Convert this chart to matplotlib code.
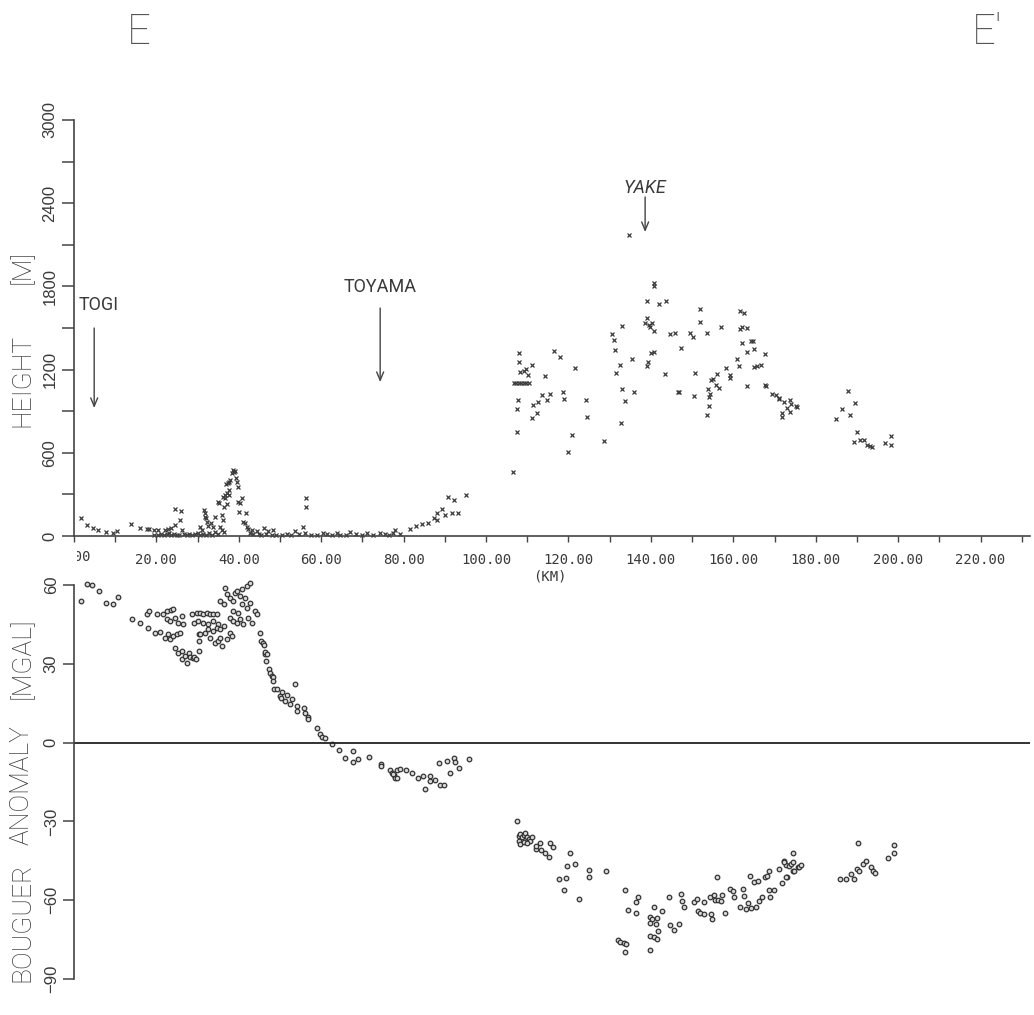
import numpy as np
import matplotlib
matplotlib.use("Agg")
import matplotlib.pyplot as plt
from matplotlib import font_manager
from matplotlib.ticker import MultipleLocator, FixedLocator, FixedFormatter
from matplotlib.transforms import Bbox, TransformedBbox

# ---- height profile [km, m] ----
height_west = [(1.7, 132), (3.2, 79), (4.7, 55), (5.9, 43), (7.8, 31), (9.4, 24), (10.5, 38),
               (13.8, 84), (15.9, 60), (17.6, 48), (18.3, 48), (19.4, 43), (20.5, 43), (22.1, 43),
               (22.9, 48), (23.5, 55), (24.5, 79), (24.5, 192), (26.0, 180), (25.7, 115), (26.2, 43),
               (19.5, 10), (20.5, 8), (21.0, 15), (21.8, 6), (22.5, 12), (23.0, 20), (23.6, 8),
               (24.2, 14), (25.0, 5), (25.6, 10), (26.8, 12), (27.5, 8), (28.0, 16), (28.6, 6), (29.3, 12)]
height_peak = [(30.6, 63), (31.0, 43), (31.6, 187), (31.8, 164), (32.1, 128), (32.2, 103), (32.4, 72),
               (33.2, 91), (33.8, 67), (34.2, 135), (35.0, 248), (35.5, 67), (35.9, 151), (36.1, 115),
               (36.3, 212), (36.7, 272), (37.1, 313), (37.3, 380), (37.5, 296), (37.9, 404), (38.3, 452),
               (38.7, 476), (38.9, 464), (39.3, 416), (39.5, 392), (39.8, 248), (39.9, 356), (40.3, 236),
               (40.7, 272), (40.1, 175), (41.8, 168), (41.1, 103), (41.5, 91), (41.9, 63), (42.3, 48),
               (43.1, 43), (44.4, 38), (46.0, 55), (47.2, 38), (48.4, 43), (31.8, 139), (36.1, 279),
               (36.7, 296), (37.1, 231), (36.9, 375), (37.5, 392), (39.1, 469), (35.1, 240), (37.5, 330),
               (30.0, 20), (30.5, 8), (31.3, 14), (32.0, 6), (32.8, 25), (33.5, 10), (34.3, 30),
               (35.0, 18), (35.8, 40), (36.4, 28), (42.8, 20), (43.5, 15), (44.8, 12), (45.5, 8),
               (46.6, 15), (48.0, 10), (49.0, 7)]
height_plain = [(50.5, 8), (51.8, 14), (52.6, 6), (53.7, 38), (54.5, 12), (55.5, 67), (56.3, 212),
                (56.3, 274), (56.0, 20), (57.5, 8), (59.0, 10), (60.5, 24), (61.5, 12), (62.5, 5),
                (63.8, 24), (64.5, 10), (66.0, 8), (67.0, 31), (68.5, 12), (70.0, 6), (71.1, 19),
                (72.5, 10), (74.3, 24), (75.5, 14), (76.5, 8), (77.5, 20), (78.0, 43), (79.0, 15),
                (81.6, 48), (83.0, 72), (84.4, 87), (86.0, 96), (87.3, 132), (88.2, 164), (88.1, 115),
                (89.4, 192), (90.1, 151), (90.7, 283), (91.7, 164), (92.1, 260), (93.1, 164), (95.2, 296)]
height_east = [(106.6, 460), (107.9, 1322), (107.9, 1257), (108.3, 1185), (109.1, 1192), (109.8, 1202),
               (110.2, 1161), (111.1, 1233), (106.7, 1106), (107.3, 1106), (107.9, 1106), (108.5, 1106),
               (109.1, 1106), (109.7, 1106), (110.3, 1106), (107.7, 981), (107.5, 914), (107.5, 752),
               (111.1, 849), (111.4, 945), (112.6, 964), (112.3, 889), (113.6, 1017), (114.8, 981),
               (115.6, 1022), (114.4, 1154), (116.6, 1334), (117.9, 1293), (118.6, 1041), (119.0, 986),
               (119.8, 606), (120.9, 726), (121.7, 1209), (124.3, 981), (124.5, 856), (128.5, 685),
               (130.6, 1457), (131.0, 1413), (131.2, 1341), (132.4, 1233), (131.6, 1173), (133.1, 1514),
               (133.0, 1058), (133.6, 976), (132.8, 817), (134.8, 2171), (135.4, 1274), (136.0, 1036),
               (138.6, 1534), (139.5, 1522), (140.3, 1538), (139.9, 1509), (140.7, 1480), (139.1, 1570),
               (139.1, 1695), (140.7, 1822), (140.8, 1803), (141.9, 1671), (143.7, 1695), (139.1, 1226),
               (139.3, 1257), (140.0, 1317), (140.8, 1327), (143.5, 1166), (144.7, 1457), (145.9, 1466),
               (147.2, 1353), (146.5, 1041), (146.9, 1036), (149.6, 1466), (150.2, 1437), (151.8, 1635),
               (152.0, 1541), (153.5, 1466), (150.6, 1178), (150.4, 1012), (157.0, 1510), (161.7, 1623),
               (162.5, 1606), (161.6, 1493), (162.0, 1505), (163.3, 1498), (162.1, 1394), (164.2, 1408),
               (164.8, 1408), (163.3, 1329), (165.1, 1346), (167.6, 1310), (160.9, 1274), (161.3, 1226),
               (158.3, 1209), (165.1, 1221), (165.8, 1226), (166.6, 1231), (156.0, 1168), (155.1, 1130),
               (154.6, 1125), (159.1, 1161), (159.1, 1137), (155.9, 1089), (156.5, 1065), (153.9, 1058),
               (154.4, 1024), (154.0, 1005), (154.0, 938), (153.5, 870), (163.3, 1082), (167.8, 1089),
               (167.9, 1082), (169.3, 1024), (170.4, 1017), (171.0, 993), (171.2, 986), (172.2, 969),
               (173.7, 981), (173.9, 952), (173.1, 921), (173.7, 897), (171.8, 885), (171.7, 856),
               (175.1, 938), (175.5, 928), (187.8, 1046), (189.5, 957), (186.4, 914), (188.4, 873),
               (185.0, 841), (189.9, 752), (189.2, 680), (190.7, 692), (191.7, 692), (192.5, 656),
               (193.1, 649), (193.7, 640), (196.9, 668), (198.2, 721), (198.3, 656)]

# ---- Bouguer anomaly [km, mGal] ----
bouguer_west = [(1.7, 53.8), (3.2, 60.2), (4.3, 59.9), (6.1, 57.9), (7.8, 53.2), (9.5, 52.9), (10.6, 55.3),
                (14.0, 46.9), (16.0, 45.6), (17.9, 43.7), (17.7, 48.8), (18.3, 50.0), (19.7, 41.8),
                (20.9, 42.0), (20.1, 49.0), (21.7, 49.0), (22.5, 50.0), (23.5, 50.3), (24.1, 50.7),
                (22.1, 39.9), (22.9, 41.2), (23.3, 39.3), (24.1, 40.5), (24.9, 41.2), (25.7, 41.8),
                (22.5, 46.9), (23.3, 46.2), (24.5, 47.5), (25.3, 45.6), (26.2, 48.1), (26.5, 45.0),
                (24.5, 36.1), (25.3, 34.2), (26.2, 34.8), (26.2, 31.7), (27.0, 32.9), (27.4, 30.4),
                (27.8, 34.2), (28.2, 32.5), (28.8, 32.1), (29.2, 32.5), (29.6, 31.7), (30.4, 34.8),
                (30.4, 38.6), (30.4, 41.2)]
bouguer_centre = [(28.6, 48.8), (29.8, 49.4), (30.6, 49.4), (31.4, 48.8), (32.2, 49.4), (33.0, 48.8),
                  (33.8, 49.0), (34.7, 48.8), (29.0, 45.6), (30.2, 46.2), (31.4, 45.6), (32.6, 45.0),
                  (33.8, 46.2), (35.0, 45.0), (30.6, 41.2), (31.8, 41.8), (32.6, 43.1), (33.8, 42.4),
                  (34.7, 43.7), (35.5, 43.1), (36.3, 44.3), (33.0, 39.9), (34.2, 38.0), (35.0, 38.6),
                  (35.9, 36.7), (35.5, 39.9), (37.1, 39.3), (37.9, 41.8), (38.3, 40.5), (35.5, 53.8),
                  (36.3, 52.6), (36.7, 58.9), (37.1, 56.4), (37.9, 55.1), (38.7, 53.8), (39.1, 57.0),
                  (39.5, 57.6), (40.3, 55.7), (40.7, 58.3), (41.5, 55.1), (41.9, 59.5), (42.6, 60.8),
                  (40.7, 52.6), (41.9, 51.3), (42.7, 53.2), (38.7, 50.0), (39.9, 49.4), (37.9, 47.5),
                  (38.7, 46.2), (39.5, 45.6), (40.3, 46.9), (41.1, 45.0), (42.3, 47.5), (43.1, 45.6),
                  (44.0, 50.0), (44.4, 48.8), (45.2, 41.8), (45.5, 38.6), (46.3, 33.6), (46.7, 31.0),
                  (45.8, 38.0), (46.1, 37.1), (46.4, 34.6), (46.8, 33.8), (47.4, 27.9), (47.6, 26.6),
                  (48.0, 25.3), (48.4, 25.0), (48.3, 23.4), (48.6, 20.5), (49.2, 20.3), (50.4, 19.4),
                  (50.0, 17.7), (50.2, 17.1), (51.1, 15.8), (51.6, 18.1), (52.9, 16.5), (52.5, 14.6),
                  (53.7, 22.4), (54.1, 13.9), (54.1, 12.0), (55.7, 13.3), (56.1, 11.4), (56.7, 9.8),
                  (56.9, 8.9), (58.9, 5.5), (59.7, 3.4), (60.2, 2.3), (61.0, 1.7), (62.7, -0.4),
                  (64.4, -2.9), (65.8, -5.9), (67.6, -3.2), (67.7, -7.2), (68.8, -6.3), (71.5, -5.3),
                  (74.6, -8.2), (74.5, -8.8), (76.6, -10.5), (77.1, -11.4), (77.7, -12.3), (78.4, -10.5),
                  (79.0, -10.1), (77.9, -13.3), (78.4, -13.5), (77.5, -11.8), (80.6, -10.4), (82.0, -11.4),
                  (83.4, -13.5), (84.7, -12.7), (86.3, -12.7), (85.2, -17.7), (86.4, -14.6), (87.7, -14.3),
                  (88.7, -16.2), (89.9, -16.1), (88.5, -7.8), (90.4, -7.0), (91.2, -11.6), (92.1, -5.7),
                  (92.5, -7.3), (93.5, -9.5), (95.8, -6.1)]
bouguer_east = [(107.5, -29.7), (107.9, -35.4), (108.3, -34.8), (108.7, -36.1), (109.1, -35.1),
                (109.5, -34.6), (109.9, -35.8), (110.3, -36.7), (110.7, -37.3), (111.1, -35.8),
                (108.1, -37.3), (108.3, -38.6), (109.1, -38.0), (109.9, -38.4), (112.0, -40.5),
                (112.2, -39.2), (113.2, -38.4), (113.3, -40.9), (114.4, -42.2), (115.2, -43.4),
                (115.6, -38.4), (116.2, -39.9), (120.4, -42.2), (119.6, -46.8), (121.7, -46.2),
                (125.1, -48.5), (125.1, -51.0), (129.2, -49.0), (117.6, -52.1), (119.5, -51.5),
                (118.8, -56.3), (122.5, -59.7), (133.6, -56.1), (136.8, -58.6), (136.3, -60.8),
                (134.5, -63.7), (136.3, -64.9), (140.8, -62.4), (142.7, -64.2), (139.9, -66.5),
                (140.3, -67.2), (141.6, -66.8), (139.7, -68.7), (141.3, -69.0), (141.7, -71.8),
                (144.7, -69.4), (145.5, -71.5), (146.9, -69.2), (131.9, -75.0), (132.4, -76.0),
                (133.4, -76.3), (134.0, -76.6), (139.9, -73.8), (140.7, -74.1), (141.5, -74.7),
                (133.6, -79.8), (139.9, -78.8), (144.3, -58.9), (147.2, -57.6), (147.6, -60.4),
                (148.1, -62.4), (150.4, -60.8), (151.1, -59.6), (151.4, -64.2), (151.9, -64.9),
                (153.0, -60.8), (153.0, -65.2), (154.3, -58.6), (154.7, -65.2), (154.8, -67.1),
                (155.4, -58.2), (155.6, -60.1), (156.2, -60.1), (156.9, -60.4), (157.3, -58.2),
                (158.1, -64.9), (156.1, -51.3), (159.1, -55.7), (159.9, -56.6), (160.1, -58.9),
                (161.7, -62.7), (162.4, -55.7), (162.5, -58.3), (163.0, -63.3), (163.5, -61.2),
                (164.0, -50.6), (164.3, -63.0), (165.1, -53.1), (165.6, -62.4), (166.2, -60.4),
                (165.9, -52.8), (167.0, -58.6), (167.6, -51.0), (168.2, -50.6), (168.6, -48.7),
                (168.6, -56.3), (168.9, -58.6), (169.8, -56.1), (171.0, -48.1), (171.9, -53.5),
                (172.3, -45.2), (172.9, -46.5), (173.1, -51.0), (173.5, -46.8), (173.9, -46.2),
                (174.5, -42.0), (174.5, -48.7), (174.5, -45.5), (175.7, -47.5), (172.2, -45.3),
                (174.7, -49.0), (175.9, -47.5), (176.5, -46.6), (172.9, -51.3), (185.9, -51.9),
                (187.3, -51.9), (189.3, -52.1), (188.5, -50.0), (190.1, -48.1), (190.5, -49.0),
                (191.4, -46.2), (192.3, -44.9), (190.2, -38.2), (193.3, -47.5), (193.9, -49.0),
                (194.5, -49.8), (197.6, -43.9), (198.9, -39.0), (199.1, -42.0)]

# place names with arrow (x km, text height, arrow start, arrow end)
places = [("TOGI", 4.9, 1666, 1500, 923, "normal"),
          ("TOYAMA", 74.3, 1796, 1644, 1110, "normal"),
          ("YAKE", 138.6, 2510, 2445, 2192, "italic")]

height_ticks = [0, 600, 1200, 1800, 2400, 3000]
bouguer_ticks = [-90, -60, -30, 0, 30, 60]
km_ticks = list(range(20, 221, 20))

W, H = 1034, 1015
names = {f.name for f in font_manager.fontManager.ttflist}
narrow = "Liberation Sans Narrow" if "Liberation Sans Narrow" in names else "Liberation Sans"
label_font = "Roboto" if "Roboto" in names else "DejaVu Sans"

fig = plt.figure(figsize=(W / 100, H / 100), dpi=100)
ax1 = fig.add_axes([74 / W, 479 / H, 956 / W, 416 / H])
ax2 = fig.add_axes([74 / W, 36 / H, 956 / W, 394 / H])

hw = np.array(height_west + height_peak + height_plain + height_east)
ax1.plot(hw[:, 0], hw[:, 1], ls="none", marker="x", ms=3.4, mew=0.9, color="#3a3a3a", clip_on=False)
bg = np.array(bouguer_west + bouguer_centre + bouguer_east)
ax2.plot(bg[:, 0], bg[:, 1], ls="none", marker="o", ms=3.3, mew=0.9, mfc="#d8d8d8", mec="#333333",
         clip_on=False)

for ax in (ax1, ax2):
    ax.set_xlim(0, 232)
    ax.spines["top"].set_visible(False)
    ax.spines["right"].set_visible(False)
    ax.spines["left"].set_color("#444444")
    ax.spines["left"].set_linewidth(1.2)
    ax.patch.set_alpha(0)

# top panel axes
ax1.set_ylim(0, 3000)
ax1.spines["bottom"].set_color("#444444")
ax1.spines["bottom"].set_linewidth(1.2)
ax1.yaxis.set_major_locator(FixedLocator(height_ticks))
ax1.yaxis.set_minor_locator(MultipleLocator(300))
ax1.xaxis.set_major_locator(FixedLocator(km_ticks))
ax1.xaxis.set_major_formatter(FixedFormatter(["%.2f" % k for k in km_ticks]))
ax1.xaxis.set_minor_locator(MultipleLocator(10))
ax1.tick_params(axis="y", which="both", direction="out", length=9, width=1.1, color="#444444",
                labelrotation=90, labelsize=12, labelcolor="#3a3a3a", pad=3)
ax1.tick_params(axis="x", which="both", direction="out", length=4, width=1.0, color="#444444",
                labelsize=10, labelcolor="#3a3a3a", pad=8)
for lab in ax1.get_yticklabels():
    lab.set_fontfamily(narrow)
    lab.set_va("center")
for lab in ax1.get_xticklabels():
    lab.set_fontfamily("DejaVu Sans Mono")

# the "0.00" label is cut by the frame in the scan
zero_lab = fig.text(74 / W, 1 - 557 / H, "0.00", ha="center", va="center", fontsize=10,
                    family="DejaVu Sans Mono", color="#3a3a3a")
zero_lab.set_clip_box(TransformedBbox(Bbox([[77 / W, 0], [1, 1]]), fig.transFigure))
zero_lab.set_clip_on(True)
fig.text(550 / W, 1 - 577 / H, "(KM)", ha="center", va="center", fontsize=10,
         family="DejaVu Sans Mono", color="#3a3a3a")

# bottom panel axes
ax2.set_ylim(-90, 60)
ax2.spines["bottom"].set_visible(False)
ax2.axhline(0, color="#222222", lw=1.3)
ax2.xaxis.set_visible(False)
ax2.yaxis.set_major_locator(FixedLocator(bouguer_ticks))
ax2.tick_params(axis="y", direction="out", length=8, width=1.1, color="#444444",
                labelrotation=90, labelsize=12, labelcolor="#3a3a3a", pad=3)
for lab in ax2.get_yticklabels():
    lab.set_fontfamily(narrow)
    lab.set_va("center")

# axis titles, word by word
lab_kw = dict(rotation=90, ha="center", va="center", fontsize=19, family=label_font,
              fontweight="light", color="#3a3a3a")
fig.text(22 / W, 1 - 267 / H, "[M]", **lab_kw)
fig.text(22 / W, 1 - 380 / H, "HEIGHT", **lab_kw)
fig.text(22 / W, 1 - 658 / H, "[MGAL]", **lab_kw)
fig.text(22 / W, 1 - 785 / H, "ANOMALY", **lab_kw)
fig.text(22 / W, 1 - 922 / H, "BOUGUER", **lab_kw)

# profile ends
fig.text(139 / W, 1 - 33 / H, "E", ha="center", va="center", fontsize=30, family=label_font,
         fontweight="light", color="#555555")
fig.text(987 / W, 1 - 33 / H, "E'", ha="center", va="center", fontsize=30, family=label_font,
         fontweight="light", color="#555555")

for name, x, ty, y0, y1, style in places:
    ax1.text(x + 1.2 if name == "TOGI" else x, ty, name, ha="center", va="center", fontsize=13,
             family=label_font, style=style, color="#3a3a3a")
    ax1.annotate("", xy=(x, y1), xytext=(x, y0),
                 arrowprops=dict(arrowstyle="->,head_length=0.6,head_width=0.25", lw=1.0,
                                 color="#444444", shrinkA=0, shrinkB=0))

fig.savefig("out.png", dpi=100, facecolor="white")
